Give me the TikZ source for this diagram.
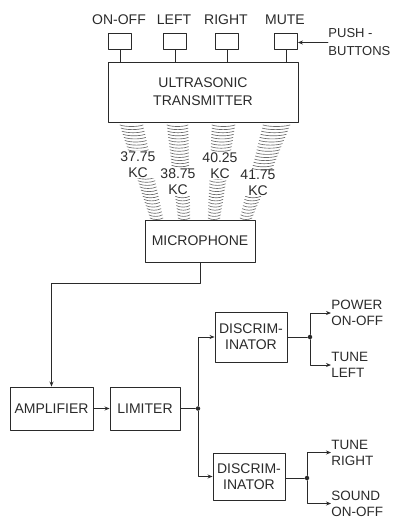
\documentclass[tikz,border=0pt]{standalone}
\usepackage{fontspec}
\setmainfont{Liberation Sans}
\usetikzlibrary{arrows.meta,positioning}
\definecolor{inkgray}{HTML}{2A2A2A}
\definecolor{wavegray}{HTML}{6A6A6A}

\begin{document}
\begin{tikzpicture}[x=1pt,y=-1pt, line cap=round, line join=round,
  >={Stealth[length=5pt,width=4pt]}, draw=inkgray, text=inkgray,
  font=\fontsize{14}{16}\selectfont, line width=0.9pt,
  every node/.style={inner sep=1pt},
  blk/.style={draw, align=center, inner sep=0pt},
  btn/.style={draw, minimum width=23pt, minimum height=16pt, inner sep=0pt},
  outlbl/.style={anchor=west, align=left, inner sep=0pt,
    font=\fontsize{13.5}{16}\selectfont},
  wave/.style={draw=wavegray, line width=0.65pt},
  dot/.style={circle, fill=inkgray, inner sep=0pt, minimum size=4.5pt}]
  \path[use as bounding box] (0,0) rectangle (395,523);
  % one unit = one pixel of the 395 x 523 reference, y downwards
  \foreach \name/\x/\lab in {b1/120/ON-OFF,b2/175/LEFT,b3/227/RIGHT,b4/286/MUTE} {
    \node[btn] (\name) at (\x,41) {};
    \node (\name l) at (\x-1,20) {\lab};
  }
  \node[blk, minimum width=190pt, minimum height=60pt,
    font=\fontsize{14}{18}\selectfont] (tx) at (203,92)
    {ULTRASONIC\\TRANSMITTER};
  \foreach \name in {b1,b2,b3,b4}
    \draw (\name.south) -- (\name.south |- tx.north);
  \node[outlbl, font=\fontsize{13}{18}\selectfont] (push) at (328,42.5)
    {PUSH -\\BUTTONS};
  \draw[->] (push.west) -- (b4.east |- push.west);
  \node[blk, minimum width=110pt, minimum height=42pt] (mic) at (200,241)
    {MICROPHONE};
  % wave bands: top centre/half width, bottom centre/half width
  \foreach \xa/\wa/\xb/\wb in {131.5/11.5/156.5/6.5, 177.5/10.5/184/6,
      223.5/11.5/214/6, 276.5/13.5/246/6} {
    \foreach \i in {0,...,30} {
      \pgfmathsetmacro\t{\i/30}
      \pgfmathsetmacro\cx{\xa+(\xb-\xa)*\t}
      \pgfmathsetmacro\hw{\wa+(\wb-\wa)*\t}
      \pgfmathsetmacro\yy{125+93*\t}
      \draw[wave] (\cx-\hw,\yy) .. controls (\cx-\hw/2,\yy+2)
        and (\cx+\hw/2,\yy+2) .. (\cx+\hw,\yy);
    }
  }
  \foreach \name/\x/\y/\lab in {f1/138/164.5/37.75, f2/178/182/38.75,
      f3/220/165.5/40.25, f4/258/183/41.75}
    \node[fill=white, align=center, inner sep=0.5pt] (\name) at (\x,\y) {\lab\\KC};
  \node[blk, minimum width=83pt, minimum height=43pt] (amp) at (51.5,408.5)
    {AMPLIFIER};
  \node[blk, minimum width=70pt, minimum height=43pt] (lim) at (145,408.5)
    {LIMITER};
  \node[blk, minimum width=72pt, minimum height=50pt] (d1) at (251,337)
    {DISCRIM-\\INATOR};
  \node[blk, minimum width=72pt, minimum height=47pt] (d2) at (249,476.5)
    {DISCRIM-\\INATOR};
  \draw[->] (mic.south) -- ++(0,21) -| (amp.north);
  \draw[->] (amp.east) -- (lim.west);
  \node[dot] (j1) at (198,408.5) {};
  \draw (lim.east) -- (j1);
  \draw[->] (j1) |- (d1.west);
  \draw[->] (j1) |- (d2.west);
  % outputs
  \node[dot] (j2) at (310,337) {};
  \node[dot] (j3) at (307,478) {};
  \node[outlbl] (o1) at (331,313) {POWER\\ON-OFF};
  \node[outlbl] (o2) at (331,365) {TUNE\\LEFT};
  \node[outlbl] (o3) at (331,452.5) {TUNE\\RIGHT};
  \node[outlbl] (o4) at (331,503.5) {SOUND\\ON-OFF};
  \draw (d1.east) -- (j2);
  \draw (d2.east |- j3) -- (j3);
  \draw[->] (j2) |- (o1.west);
  \draw[->] (j2) |- (o2.west);
  \draw[->] (j3) |- (o3.west);
  \draw[->] (j3) |- (o4.west);
\end{tikzpicture}
\end{document}
